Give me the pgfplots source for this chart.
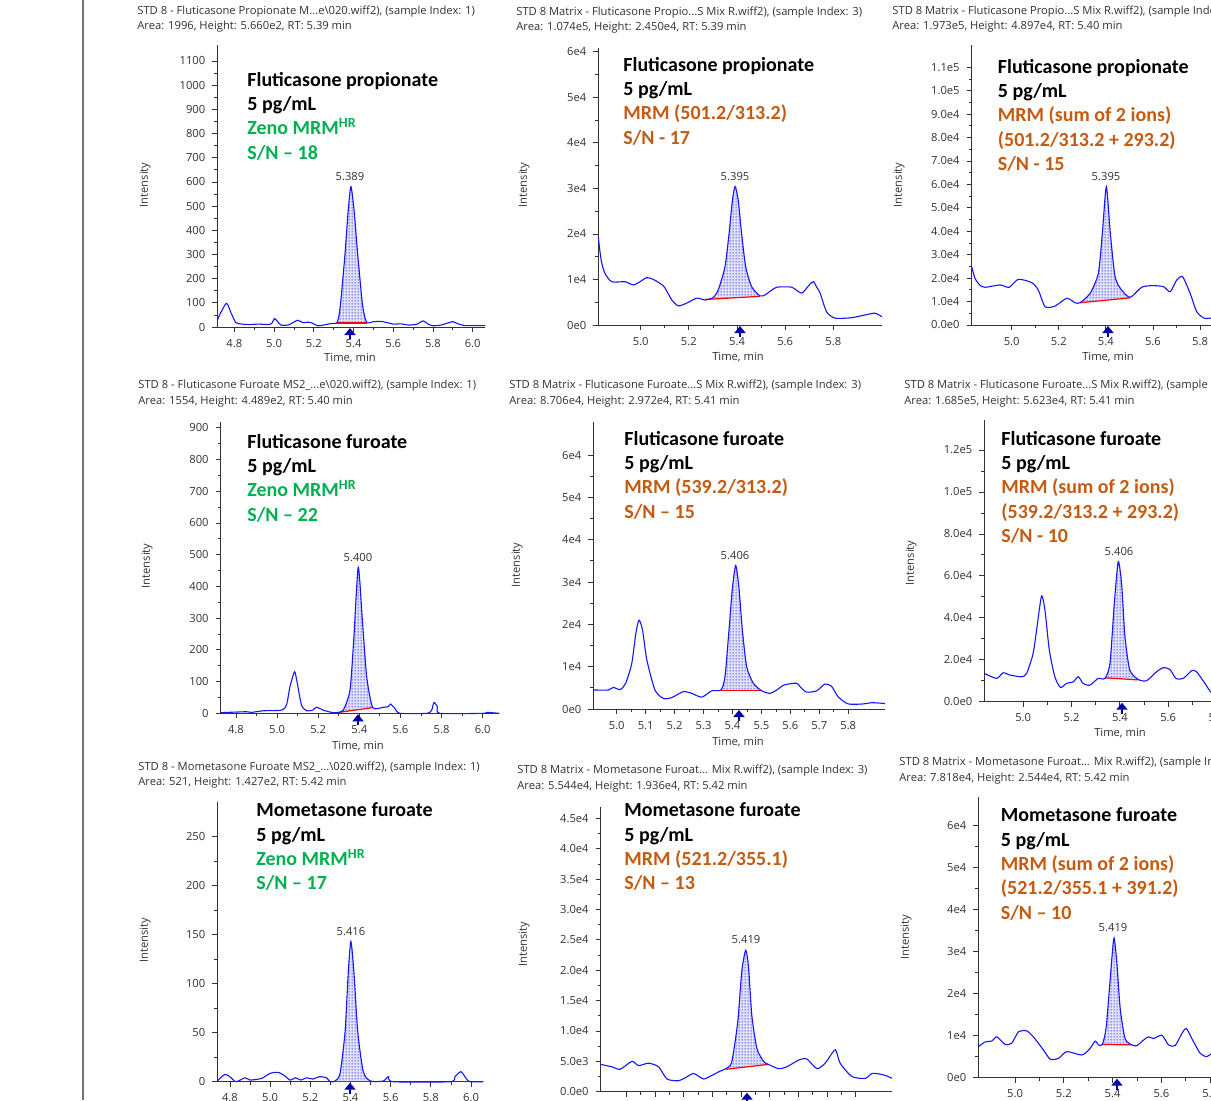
\documentclass[border=0pt]{standalone}
\usepackage{pgfplots}
\pgfplotsset{compat=1.18}
\usepackage{fontspec}
\setmainfont{Open Sans}
\newfontfamily\calb{Carlito}
\usetikzlibrary{patterns.meta,arrows.meta}

\definecolor{zgreen}{RGB}{0,176,80}
\definecolor{morange}{RGB}{197,90,17}
\definecolor{tracecol}{RGB}{20,20,255}
\definecolor{rtarrow}{RGB}{0,0,170}
\definecolor{txtgray}{RGB}{50,50,50}

\newcommand\tickfont{\fontsize{5.6}{6.5}\selectfont}
\newcommand\hdrfont{\fontsize{5.6}{6.5}\selectfont}
\newcommand\bigfont{\calb\bfseries\fontsize{10}{12.2}\selectfont}

\tikzdeclarepattern{name=fdots, type=uncolored,
  bounding box={(0,0) and (1.5pt,1.5pt)}, tile size={(1.5pt,1.5pt)},
  code={\fill (0.75pt,0.75pt) circle (0.36pt);}}

\pgfplotsset{
  chrom/.style={scale only axis, anchor=south west, clip=false,
    axis lines=left, axis line style={-, black!80, line width=0.5pt},
    tick align=outside, major tick length=2.5pt, minor tick length=1.5pt,
    every tick/.style={black!80, line width=0.4pt},
    tick label style={font=\tickfont, text=txtgray},
    scaled y ticks=false, scaled x ticks=false,
    minor x tick num=1, minor y tick num=1, ymin=0},
  chromline/.style={tracecol, line width=0.55pt, smooth, tension=0.4},
  peakarea/.style={draw=none, fill=blue!12, smooth, tension=0.4,
    postaction={pattern={fdots}, pattern color=blue!85!black}},
  baseln/.style={red, line width=0.6pt},
}

% one line of the big annotation (x, baseline y in px)
\newcommand\ann[4]{\node[anchor=base west, inner sep=0, font=\bigfont, text=#4] at (#1,#2) {#3};}
\newcommand\hdr[3]{\node[anchor=west, inner sep=0, font=\hdrfont, text=txtgray] at (#1,#2) {#3};}
\newcommand\plbl[3]{\node[inner sep=0, font=\tickfont, text=txtgray] at (#1,#2) {#3};}
\newcommand\rt[2]{\draw[rtarrow, line width=1.3pt, -{Triangle[width=5.5pt,length=3.5pt]}] (#1,#2+12) -- (#1,#2+1);}

\begin{document}
\begin{tikzpicture}
\path[use as bounding box] (0,0) rectangle (605.5pt,-550pt);
\clip (0,0) rectangle (605.5pt,-550pt);

% ---------- row 1 ----------
\begin{axis}[chrom, at={(108.65pt,-163.5pt)}, width=133.85pt, height=141pt,
  xmin=4.714, xmax=6.062, ymax=1166,
  xtick={4.8,5.0,5.2,5.4,5.6,5.8,6.0}, xticklabels={4.8,5.0,5.2,5.4,5.6,5.8,6.0},
  ytick={0,100,...,1100}, yticklabels={0,100,200,300,400,500,600,700,800,900,1000,1100}]
\addplot[peakarea] coordinates {(5.315,17)(5.325,40)(5.335,100)(5.357,300)(5.373,480)(5.387,580)(5.403,480)(5.421,300)(5.444,100)(5.457,40)(5.469,17)} -- cycle;
\addplot[baseln] coordinates {(5.315,17)(5.469,17)};
\addplot[chromline] coordinates {(4.714,29)(4.735,65)(4.761,98)(4.785,55)(4.808,18)(4.84,12)(4.88,10)(4.92,12)(4.97,10)(4.988,15)(5.002,35)(5.018,22)(5.035,8)(5.07,8)(5.095,18)(5.119,28)(5.145,18)(5.17,20)(5.19,17)(5.22,5)(5.26,10)(5.29,15)(5.315,16)(5.325,40)(5.335,100)(5.357,300)(5.373,480)(5.387,580)(5.403,480)(5.421,300)(5.444,100)(5.457,40)(5.469,17)(5.50,22)(5.54,23)(5.57,18)(5.60,12)(5.64,13)(5.68,8)(5.72,12)(5.75,25)(5.78,10)(5.80,5)(5.84,8)(5.88,18)(5.90,22)(5.93,12)(5.96,6)(6.0,6)(6.062,6)};
\end{axis}

\begin{axis}[chrom, at={(299.15pt,-162.5pt)}, width=141.85pt, height=138.35pt,
  xmin=4.824, xmax=6.002, ymax=60740,
  xtick={5.0,5.2,5.4,5.6,5.8}, xticklabels={5.0,5.2,5.4,5.6,5.8},
  ytick={0,10000,...,60000}, yticklabels={0e0,1e4,2e4,3e4,4e4,5e4,6e4}]
\addplot[peakarea] coordinates {(5.267,5600)(5.30,6000)(5.322,7700)(5.350,12800)(5.367,20100)(5.381,27400)(5.392,30400)(5.405,27400)(5.419,20100)(5.436,12800)(5.461,8400)(5.495,6400)} -- cycle;
\addplot[baseln] coordinates {(5.267,5600)(5.495,6300)};
\addplot[chromline] coordinates {(4.824,19400)(4.835,14500)(4.850,11500)(4.880,9500)(4.935,9500)(4.970,8800)(5.000,9600)(5.025,10400)(5.053,10000)(5.094,8600)(5.115,6800)(5.129,5500)(5.156,4200)(5.191,4800)(5.233,5900)(5.267,5500)(5.30,6000)(5.322,7700)(5.350,12800)(5.367,20100)(5.381,27400)(5.392,30400)(5.405,27400)(5.419,20100)(5.436,12800)(5.461,8400)(5.495,6400)(5.516,6600)(5.54,7500)(5.565,8300)(5.627,8300)(5.668,7000)(5.700,8800)(5.717,9500)(5.732,8200)(5.745,7000)(5.772,2900)(5.807,1500)(5.876,1600)(5.931,2200)(5.973,2600)(6.002,1800)};
\end{axis}

\begin{axis}[chrom, at={(485.85pt,-162.5pt)}, width=137.7pt, height=140pt,
  xmin=4.830, xmax=6.0, ymax=119500,
  xtick={5.0,5.2,5.4,5.6,5.8}, xticklabels={5.0,5.2,5.4,5.6,5.8},
  ytick={0,10000,...,110000}, yticklabels={0.0e0,1.0e4,2.0e4,3.0e4,4.0e4,5.0e4,6.0e4,7.0e4,8.0e4,9.0e4,1.0e5,1.1e5}]
\addplot[peakarea] coordinates {(5.290,9500)(5.333,13500)(5.368,22100)(5.385,39100)(5.402,59000)(5.419,39100)(5.439,20600)(5.467,14900)(5.503,11800)} -- cycle;
\addplot[baseln] coordinates {(5.290,9500)(5.503,11600)};
\addplot[chromline] coordinates {(4.830,24900)(4.844,19900)(4.865,17000)(4.887,16100)(4.950,17100)(4.989,16100)(5.028,19500)(5.085,18100)(5.113,14900)(5.142,7800)(5.184,8100)(5.234,11400)(5.269,9500)(5.290,9500)(5.333,13500)(5.368,22100)(5.385,39100)(5.402,59000)(5.419,39100)(5.439,20600)(5.467,14900)(5.503,11800)(5.552,16100)(5.595,16800)(5.644,16400)(5.673,14200)(5.701,19200)(5.726,20600)(5.758,13500)(5.786,5700)(5.821,2800)(5.87,3500)(5.92,4500)(5.96,5000)(6.0,4000)};
\end{axis}

% ---------- row 2 ----------
\begin{axis}[chrom, at={(110.35pt,-356.65pt)}, width=139.3pt, height=145.8pt,
  xmin=4.726, xmax=6.081, ymax=919,
  xtick={4.8,5.0,5.2,5.4,5.6,5.8,6.0}, xticklabels={4.8,5.0,5.2,5.4,5.6,5.8,6.0},
  ytick={0,100,...,900}, yticklabels={0,100,200,300,400,500,600,700,800,900}]
\addplot[peakarea] coordinates {(5.29,2)(5.322,10)(5.355,74)(5.374,242)(5.395,460)(5.415,294)(5.436,116)(5.465,19)} -- cycle;
\addplot[baseln] coordinates {(5.29,2)(5.465,18)};
\addplot[chromline] coordinates {(4.726,2)(4.85,5)(4.876,3)(4.933,8)(5.022,10)(5.046,26)(5.063,84)(5.085,131)(5.097,100)(5.119,26)(5.144,8)(5.173,10)(5.192,19)(5.225,10)(5.265,3)(5.290,2)(5.322,10)(5.355,74)(5.374,242)(5.395,460)(5.415,294)(5.436,116)(5.465,19)(5.517,19)(5.541,21)(5.552,29)(5.573,16)(5.598,0)(5.728,0)(5.752,10)(5.763,34)(5.780,21)(5.792,0)(6.003,0)(6.019,3)(6.081,0)};
\end{axis}

\begin{axis}[chrom, at={(296.65pt,-354.5pt)}, width=145.85pt, height=143.65pt,
  xmin=4.919, xmax=5.927, ymax=67874,
  xtick={5.0,5.1,5.2,5.3,5.4,5.5,5.6,5.7,5.8}, xticklabels={5.0,5.1,5.2,5.3,5.4,5.5,5.6,5.7,5.8},
  ytick={0,10000,...,60000}, yticklabels={0e0,1e4,2e4,3e4,4e4,5e4,6e4}]
\addplot[peakarea] coordinates {(5.360,4400)(5.374,7600)(5.388,18700)(5.399,28100)(5.411,33900)(5.422,28900)(5.434,18700)(5.449,10000)(5.472,6100)(5.501,4300)} -- cycle;
\addplot[baseln] coordinates {(5.360,4300)(5.501,4300)};
\addplot[chromline] coordinates {(4.919,4500)(4.971,4500)(4.988,5100)(5.012,4600)(5.031,6100)(5.052,10800)(5.066,17900)(5.077,21000)(5.089,18700)(5.104,11600)(5.132,4500)(5.161,2500)(5.190,2700)(5.230,4100)(5.259,3700)(5.294,2800)(5.328,4300)(5.360,4500)(5.374,7600)(5.388,18700)(5.399,28100)(5.411,33900)(5.422,28900)(5.434,18700)(5.449,10000)(5.472,6100)(5.501,4300)(5.529,3700)(5.553,4500)(5.579,5700)(5.622,6100)(5.633,5300)(5.656,4000)(5.691,4300)(5.719,5900)(5.742,5400)(5.765,2900)(5.800,1200)(5.852,1200)(5.881,1500)(5.927,1300)};
\end{axis}

\begin{axis}[chrom, at={(492.15pt,-350.85pt)}, width=140.3pt, height=140.85pt,
  xmin=4.839, xmax=6.0, ymax=134300,
  xtick={5.0,5.2,5.4,5.6,5.8}, xticklabels={5.0,5.2,5.4,5.6,5.8},
  ytick={0,20000,...,120000}, yticklabels={0.0e0,2.0e4,4.0e4,6.0e4,8.0e4,1.0e5,1.2e5}]
\addplot[peakarea] coordinates {(5.338,11100)(5.359,18300)(5.377,46900)(5.393,66700)(5.407,56400)(5.421,31000)(5.441,15100)(5.476,10600)} -- cycle;
\addplot[baseln] coordinates {(5.338,11400)(5.476,10400)};
\addplot[chromline] coordinates {(4.839,13500)(4.890,11100)(4.917,13800)(4.945,12700)(4.993,11900)(5.014,13500)(5.041,23000)(5.059,37300)(5.076,50400)(5.090,43700)(5.108,24600)(5.131,11900)(5.154,6800)(5.179,8700)(5.207,9500)(5.228,11900)(5.248,8700)(5.276,7900)(5.310,11100)(5.338,11100)(5.359,18300)(5.377,46900)(5.393,66700)(5.407,56400)(5.421,31000)(5.441,15100)(5.476,10600)(5.510,10000)(5.552,14300)(5.579,16200)(5.607,15400)(5.632,11100)(5.662,11100)(5.697,14800)(5.717,14300)(5.752,8700)(5.779,4300)(5.82,2500)(5.9,3000)(6.0,3000)};
\end{axis}

% ---------- row 3 ----------
\begin{axis}[chrom, at={(108.65pt,-540.85pt)}, width=133pt, height=140pt,
  xmin=4.737, xmax=6.061, ymax=285.7,
  xtick={4.8,5.0,5.2,5.4,5.6,5.8,6.0}, xticklabels={4.8,5.0,5.2,5.4,5.6,5.8,6.0},
  ytick={0,50,...,250}, yticklabels={0,50,100,150,200,250}]
\addplot[peakarea] coordinates {(5.323,0.7)(5.348,8.5)(5.373,51)(5.389,112)(5.402,143)(5.417,112)(5.436,51)(5.464,10)(5.500,0.7)} -- cycle;
\addplot[baseln] coordinates {(5.318,0.3)(5.505,0.3)};
\addplot[chromline] coordinates {(4.737,0.7)(4.775,7.5)(4.800,5)(4.830,0)(4.875,4)(4.900,1.7)(4.958,3.4)(4.999,8.5)(5.041,9.5)(5.074,5.8)(5.099,1.7)(5.127,4)(5.152,1.7)(5.182,4)(5.212,2.7)(5.245,5.1)(5.281,4)(5.298,0)(5.323,0.7)(5.348,8.5)(5.373,51)(5.389,112)(5.402,143)(5.417,112)(5.436,51)(5.464,10)(5.500,0.7)(5.563,0.7)(5.588,5.1)(5.613,0)(5.895,0)(5.920,5.1)(5.950,10.2)(5.978,2.7)(5.995,0)(6.061,0)};
\end{axis}

\begin{axis}[chrom, at={(300.35pt,-545.85pt)}, width=145.65pt, height=142.5pt,
  xmin=4.910, xmax=5.926, ymax=46920,
  xtick={5.0,5.1,5.2,5.3,5.4,5.5,5.6,5.7,5.8}, xticklabels={5.0,5.1,5.2,5.3,5.4,5.5,5.6,5.7,5.8},
  ytick={0,5000,...,45000}, yticklabels={0.0e0,5.0e3,1.0e4,1.5e4,2.0e4,2.5e4,3.0e4,3.5e4,4.0e4,4.5e4}]
\addplot[peakarea] coordinates {(5.347,3800)(5.367,4900)(5.388,11500)(5.402,19800)(5.416,23300)(5.426,20300)(5.437,12600)(5.455,7100)(5.478,5000)(5.495,4500)} -- cycle;
\addplot[baseln] coordinates {(5.347,3700)(5.495,4500)};
\addplot[chromline] coordinates {(4.910,4500)(4.949,4100)(4.978,3700)(5.019,5000)(5.042,4300)(5.077,4700)(5.112,4100)(5.141,2100)(5.181,1800)(5.205,2300)(5.234,3000)(5.269,2100)(5.298,2700)(5.327,3400)(5.347,3800)(5.367,4900)(5.388,11500)(5.402,19800)(5.416,23300)(5.426,20300)(5.437,12600)(5.455,7100)(5.478,5000)(5.495,4500)(5.530,3800)(5.559,4100)(5.600,5200)(5.629,5400)(5.664,3800)(5.693,4700)(5.728,6900)(5.745,4700)(5.786,2500)(5.833,2200)(5.856,3000)(5.885,2900)(5.908,2600)(5.926,2200)};
\end{axis}

\begin{axis}[chrom, at={(489.15pt,-538.85pt)}, width=140.3pt, height=140.5pt,
  xmin=4.849, xmax=6.0, ymax=66730,
  xtick={5.0,5.2,5.4,5.6,5.8}, xticklabels={5.0,5.2,5.4,5.6,5.8},
  ytick={0,10000,...,60000}, yticklabels={0e0,1e4,2e4,3e4,4e4,5e4,6e4}]
\addplot[peakarea] coordinates {(5.358,7900)(5.373,11700)(5.387,21200)(5.398,29100)(5.406,33200)(5.417,27500)(5.431,16500)(5.451,9300)(5.479,7800)} -- cycle;
\addplot[baseln] coordinates {(5.358,7900)(5.479,7800)};
\addplot[chromline] coordinates {(4.850,7400)(4.877,8500)(4.904,8700)(4.925,9700)(4.959,7900)(4.986,8200)(5.014,10900)(5.048,11100)(5.075,9700)(5.116,6600)(5.144,4400)(5.178,4600)(5.212,6200)(5.274,5400)(5.308,7000)(5.328,8700)(5.342,7800)(5.358,7900)(5.373,11700)(5.387,21200)(5.398,29100)(5.406,33200)(5.417,27500)(5.431,16500)(5.451,9300)(5.479,7800)(5.499,7600)(5.526,8900)(5.547,9700)(5.568,9300)(5.602,10100)(5.629,7800)(5.656,7600)(5.684,10500)(5.702,11700)(5.725,9300)(5.759,5800)(5.786,5000)(5.807,5800)(5.85,7000)(5.9,8000)(6.0,7000)};
\end{axis}

% ---------- texts, separator, RT arrows ----------
\begin{scope}[x=0.5pt,y=-0.5pt]
\fill[black!55] (81.5,0) rectangle (84,1100);

\hdr{137}{12}{STD 8 - Fluticasone Propionate M...e\textbackslash 020.wiff2), (sample Index: 1)}
\hdr{137}{27}{Area: 1996, Height: 5.660e2, RT: 5.39 min}
\hdr{516}{13}{STD 8 Matrix - Fluticasone Propio...S Mix R.wiff2), (sample Index: 3)}
\hdr{516}{28}{Area: 1.074e5, Height: 2.450e4, RT: 5.39 min}
\hdr{892}{12}{STD 8 Matrix - Fluticasone Propio...S Mix R.wiff2), (sample Index: 3)}
\hdr{892}{27}{Area: 1.973e5, Height: 4.897e4, RT: 5.40 min}
\hdr{138}{386}{STD 8 - Fluticasone Furoate MS2\_...e\textbackslash 020.wiff2), (sample Index: 1)}
\hdr{138}{402}{Area: 1554, Height: 4.489e2, RT: 5.40 min}
\hdr{509}{386}{STD 8 Matrix - Fluticasone Furoate...S Mix R.wiff2), (sample Index: 3)}
\hdr{509}{402}{Area: 8.706e4, Height: 2.972e4, RT: 5.41 min}
\hdr{904}{386}{STD 8 Matrix - Fluticasone Furoate...S Mix R.wiff2), (sample Index: 3)}
\hdr{904}{402}{Area: 1.685e5, Height: 5.623e4, RT: 5.41 min}
\hdr{138}{768}{STD 8 - Mometasone Furoate MS2\_...\textbackslash 020.wiff2), (sample Index: 1)}
\hdr{138}{783}{Area: 521, Height: 1.427e2, RT: 5.42 min}
\hdr{517}{771}{STD 8 Matrix - Mometasone Furoat... Mix R.wiff2), (sample Index: 3)}
\hdr{517}{787}{Area: 5.544e4, Height: 1.936e4, RT: 5.42 min}
\hdr{899}{763}{STD 8 Matrix - Mometasone Furoat... Mix R.wiff2), (sample Index: 3)}
\hdr{899}{779}{Area: 7.818e4, Height: 2.544e4, RT: 5.42 min}

\foreach \xx/\yy in {145/185, 524/185, 899/185, 147/566, 517/565, 911/563, 145/940, 524/944, 906/937}
  \node[rotate=90, inner sep=0, font=\hdrfont, text=txtgray] at (\xx,\yy) {Intensity};
\foreach \xx/\yy in {350/358, 738/357, 1108/357, 358/746, 738/742, 1120/733}
  \node[inner sep=0, font=\hdrfont, text=txtgray] at (\xx,\yy) {Time, min};

\plbl{350}{177}{5.389}
\plbl{735}{177}{5.395}
\plbl{1106}{177}{5.395}
\plbl{358}{558}{5.400}
\plbl{735}{556}{5.406}
\plbl{1119}{552}{5.406}
\plbl{351}{932}{5.416}
\plbl{746}{940}{5.419}
\plbl{1113}{928}{5.419}

\rt{350}{327}
\rt{740}{325}
\rt{1108}{325}
\rt{358}{713.3}
\rt{739}{709}
\rt{1122}{701.7}
\rt{350}{1081.7}
\rt{747}{1091.7}
\rt{1117}{1077.7}

\ann{247}{86}{Fluticasone propionate}{black}
\ann{247}{110.4}{5 pg/mL}{black}
\ann{247}{134.8}{Zeno MRM\textsuperscript{HR}}{zgreen}
\ann{247}{159.2}{S/N – 18}{zgreen}

\ann{623}{71}{Fluticasone propionate}{black}
\ann{623}{95.4}{5 pg/mL}{black}
\ann{623}{119.8}{MRM (501.2/313.2)}{morange}
\ann{623}{144.2}{S/N - 17}{morange}

\ann{997.5}{73}{Fluticasone propionate}{black}
\ann{997.5}{97.4}{5 pg/mL}{black}
\ann{997.5}{121.8}{MRM (sum of 2 ions)}{morange}
\ann{997.5}{146.2}{(501.2/313.2 + 293.2)}{morange}
\ann{997.5}{170.6}{S/N - 15}{morange}

\ann{247}{448}{Fluticasone furoate}{black}
\ann{247}{472.4}{5 pg/mL}{black}
\ann{247}{496.8}{Zeno MRM\textsuperscript{HR}}{zgreen}
\ann{247}{521.2}{S/N – 22}{zgreen}

\ann{624}{445}{Fluticasone furoate}{black}
\ann{624}{469.4}{5 pg/mL}{black}
\ann{624}{493.8}{MRM (539.2/313.2)}{morange}
\ann{624}{518.2}{S/N – 15}{morange}

\ann{1001}{445}{Fluticasone furoate}{black}
\ann{1001}{469.4}{5 pg/mL}{black}
\ann{1001}{493.8}{MRM (sum of 2 ions)}{morange}
\ann{1001}{518.2}{(539.2/313.2 + 293.2)}{morange}
\ann{1001}{542.6}{S/N - 10}{morange}

\ann{256}{816.7}{Mometasone furoate}{black}
\ann{256}{841.1}{5 pg/mL}{black}
\ann{256}{865.5}{Zeno MRM\textsuperscript{HR}}{zgreen}
\ann{256}{889.9}{S/N – 17}{zgreen}

\ann{624}{816.7}{Mometasone furoate}{black}
\ann{624}{841.1}{5 pg/mL}{black}
\ann{624}{865.5}{MRM (521.2/355.1)}{morange}
\ann{624}{889.9}{S/N – 13}{morange}

\ann{1000.5}{821.7}{Mometasone furoate}{black}
\ann{1000.5}{846.1}{5 pg/mL}{black}
\ann{1000.5}{870.5}{MRM (sum of 2 ions)}{morange}
\ann{1000.5}{894.9}{(521.2/355.1 + 391.2)}{morange}
\ann{1000.5}{919.3}{S/N – 10}{morange}
\end{scope}
\end{tikzpicture}
\end{document}
